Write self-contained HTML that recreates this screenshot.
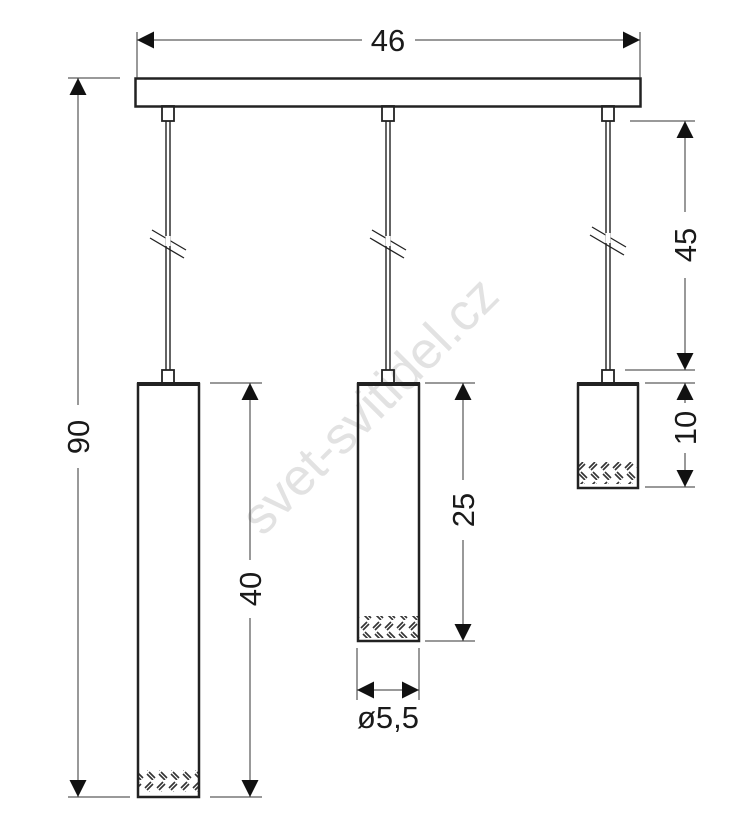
<!DOCTYPE html>
<html><head><meta charset="utf-8"><style>html,body{margin:0;padding:0;background:#fff}svg{display:block}</style></head><body>
<svg width="755" height="824" viewBox="0 0 755 824" xmlns="http://www.w3.org/2000/svg" font-family="Liberation Sans, sans-serif">
<defs>
<pattern id="wv" x="0" y="0" width="12" height="20" patternUnits="userSpaceOnUse">
<path d="M1 8 L7 2 M3 10 L9 4 M5 12 L11 18 M3 14 L9 20" stroke="#333" stroke-width="1.6" fill="none"/>
</pattern>
<marker id="a" viewBox="0 0 10 10" refX="10" refY="5" markerWidth="17" markerHeight="17" markerUnits="userSpaceOnUse" orient="auto-start-reverse"><path d="M0 0 L10 5 L0 10z" fill="#111"/></marker>
</defs>
<!-- watermark -->
<text x="382" y="418" transform="rotate(-45 382 418)" text-anchor="middle" font-size="52" fill="#e2e2e2">svet-svitidel.cz</text>
<g stroke="#222" fill="none">
<rect x="135.5" y="78.5" width="505" height="28" stroke-width="2.5"/>
<g stroke-width="1.8">
<rect x="162" y="106" width="12" height="15"/><rect x="382" y="106" width="12" height="15"/><rect x="602" y="106" width="12" height="15"/>
<rect x="162" y="370" width="12" height="13"/><rect x="382" y="370" width="12" height="13"/><rect x="602" y="370" width="12" height="13"/>
</g>
<g stroke-width="1.4">
<path d="M166 121V370M170 121V370M386 121V370M390 121V370M606 121V370M610 121V370"/>
</g>
<g stroke-width="1.3">
<path d="M152 230L186 250M150 238L184 258"/>
<path d="M372 230L406 250M370 238L404 258"/>
<path d="M592 227L626 247M590 235L624 255"/>
</g>
<g stroke="#fff" stroke-width="5"><path d="M168 236V246M388 236V246M608 233V243" /></g>
<rect x="137" y="770" width="62" height="22" fill="url(#wv)" stroke="none"/>
<rect x="357" y="616" width="62" height="22" fill="url(#wv)" stroke="none"/>
<rect x="577" y="462" width="62" height="22" fill="url(#wv)" stroke="none"/>
<g stroke-width="2.5">
<rect x="138" y="384" width="61" height="413"/>
<rect x="358" y="384" width="61" height="257"/>
<rect x="578" y="384" width="60" height="104"/>
</g>
<g stroke-width="4"><path d="M137 384H200M357 384H420M577 384H639"/></g>
<g stroke-width="1" stroke="#333">
<path d="M137 32V78M640 32V78"/>
<path d="M137 40H362M415 40H640" marker-start="url(#a)" marker-end="url(#a)"/>
<path d="M68 78H120M68 797H130"/>
<path d="M78 78V405M78 468V797" marker-start="url(#a)" marker-end="url(#a)"/>
<path d="M210 383H262M210 797H262"/>
<path d="M250 383V560M250 618V797" marker-start="url(#a)" marker-end="url(#a)"/>
<path d="M425 383H475M425 641H475"/>
<path d="M463 383V480M463 540V641" marker-start="url(#a)" marker-end="url(#a)"/>
<path d="M630 121H695M625 370H695"/>
<path d="M685 121V212M685 278V370" marker-start="url(#a)" marker-end="url(#a)"/>
<path d="M645 383H695M645 487H695"/>
<path d="M685 383V403M685 453V487" marker-start="url(#a)" marker-end="url(#a)"/>
<path d="M357 648V700M419 648V700"/>
<path d="M357 690H419" marker-start="url(#a)" marker-end="url(#a)"/>
</g>
</g>
<g fill="#1a1a1a" font-size="31" text-anchor="middle">
<text x="388" y="51">46</text>
<text transform="translate(89 437) rotate(-90)">90</text>
<text transform="translate(261 589) rotate(-90)">40</text>
<text transform="translate(474 510) rotate(-90)">25</text>
<text transform="translate(696 245) rotate(-90)">45</text>
<text transform="translate(696 428) rotate(-90)">10</text>
<text x="388" y="728">ø5,5</text>
</g>
</svg>
</body></html>
